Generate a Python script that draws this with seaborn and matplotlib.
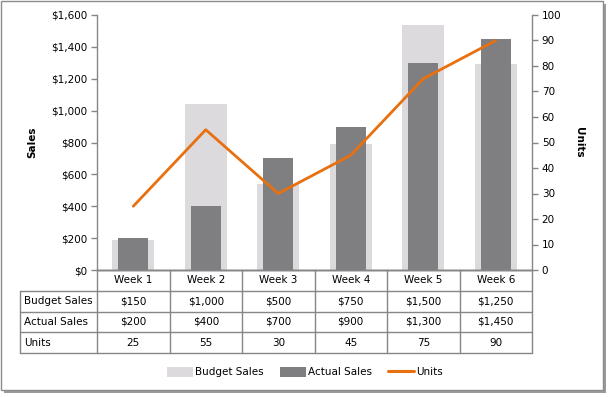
import matplotlib
matplotlib.use("Agg")
import matplotlib.pyplot as plt
import seaborn as sns
import pandas as pd
from matplotlib.patches import Rectangle, Patch
from matplotlib.lines import Line2D
from matplotlib.ticker import FuncFormatter

# data
weeks = ["Week 1", "Week 2", "Week 3", "Week 4", "Week 5", "Week 6"]
budget_sales = [150, 1000, 500, 750, 1500, 1250]     # values in the table
budget_bars = [190, 1040, 540, 790, 1540, 1290]      # heights the light bars are drawn at
actual_sales = [200, 400, 700, 900, 1300, 1450]
units = [25, 55, 30, 45, 75, 90]

df = pd.DataFrame({"week": weeks, "budget": budget_bars,
                   "actual": actual_sales, "units": units})

sns.set_theme(style="white")
plt.rcParams["font.family"] = ["DejaVu Sans"]
plt.rcParams["font.size"] = 7.5
plt.rcParams["text.color"] = "black"
plt.rcParams["axes.labelcolor"] = "black"
plt.rcParams["ytick.color"] = "black"

light = "#DCDADD"
dark = "#7F7E80"
orange = "#E8700F"
axis_grey = "#868686"

W, H = 611, 397
fig = plt.figure(figsize=(W / 100, H / 100), dpi=100)

# chart border with a little shadow
fig.patches.append(Rectangle((4 / W, 1 - 393 / H), 602 / W, 389 / H, transform=fig.transFigure,
                             facecolor="#9A9A9A", edgecolor="none", zorder=-2))
fig.patches.append(Rectangle((1 / W, 1 - 390 / H), 602 / W, 389 / H, transform=fig.transFigure,
                             facecolor="white", edgecolor="#8C8C8C", lw=1, zorder=-1))

ax = fig.add_axes([97 / W, 1 - 270 / H, 435 / W, 255 / H])
ax.patch.set_alpha(0)
sns.barplot(data=df, x="week", y="budget", color=light, width=0.58, saturation=1,
            linewidth=0, ax=ax)
sns.barplot(data=df, x="week", y="actual", color=dark, width=0.41, saturation=1,
            linewidth=0, ax=ax)
ax.set_xlim(-0.5, 5.5)
ax.set_ylim(0, 1600)
ax.set_yticks(range(0, 1601, 200))
ax.yaxis.set_major_formatter(FuncFormatter(lambda v, p: f"${v:,.0f}"))
ax.set_xticks([])
ax.set_xlabel("")
ax.set_ylabel("Sales", fontweight="bold", fontsize=7.5, labelpad=10)

ax2 = ax.twinx()
sns.lineplot(x=list(range(len(units))), y=units, color=orange, lw=2.0, ax=ax2)
ax2.set_ylim(0, 100)
ax2.set_yticks(range(0, 101, 10))
ax2.set_ylabel("Units", fontweight="bold", fontsize=7.5, rotation=-90, labelpad=16)

for a in (ax, ax2):
    a.spines["top"].set_visible(False)
    for s in ("left", "right", "bottom"):
        a.spines[s].set_color(axis_grey)
        a.spines[s].set_linewidth(1)
    a.tick_params(axis="y", length=4, width=1, color=axis_grey, pad=3, labelsize=7.5,
                  labelcolor="black", direction="out")
ax.spines["right"].set_visible(False)
ax2.spines["left"].set_visible(False)
ax.tick_params(axis="y", left=True)
ax2.tick_params(axis="y", right=True)

# data table under the plot
label_w = 77 / 72.5
tax = fig.add_axes([20 / W, 1 - 353 / H, 512 / W, 83 / H])
tax.set_xlim(-0.5 - label_w, 5.5)
tax.set_ylim(4, 0)
tax.axis("off")
grid = dict(color=axis_grey, lw=1, clip_on=False)
n = len(weeks)
tax.plot([-0.5, n - 0.5], [0, 0], **grid)
for r in (1, 2, 3, 4):
    tax.plot([-0.5 - label_w, n - 0.5], [r, r], **grid)
tax.plot([-0.5 - label_w, -0.5 - label_w], [1, 4], **grid)
for c in range(n + 1):
    tax.plot([c - 0.5, c - 0.5], [0, 4], **grid)

rows = [("Budget Sales", [f"${v:,}" for v in budget_sales]),
        ("Actual Sales", [f"${v:,}" for v in actual_sales]),
        ("Units", [str(v) for v in units])]
for i, w in enumerate(weeks):
    tax.text(i, 0.5, w, ha="center", va="center", fontsize=7.5)
for r, (name, vals) in enumerate(rows, start=1):
    tax.text(-0.5 - label_w + 0.05, r + 0.5, name, ha="left", va="center", fontsize=7.5)
    for i, v in enumerate(vals):
        tax.text(i, r + 0.5, v, ha="center", va="center", fontsize=7.5)

handles = [Patch(facecolor=light, edgecolor="none", label="Budget Sales"),
           Patch(facecolor=dark, edgecolor="none", label="Actual Sales"),
           Line2D([], [], color=orange, lw=2.2, label="Units")]
fig.legend(handles=handles, loc="center", bbox_to_anchor=(305 / W, 1 - 372 / H), ncol=3,
           frameon=False, fontsize=7.5, handlelength=2.5, handleheight=1.1,
           handletextpad=0.15, columnspacing=1.6)

fig.savefig("out.png", dpi=100)
